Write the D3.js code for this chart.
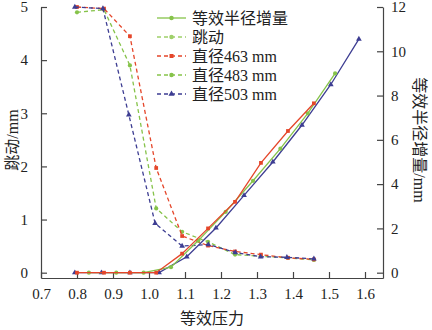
<!DOCTYPE html>
<html>
<head>
<meta charset="utf-8">
<script src="https://cdn.jsdelivr.net/npm/d3@7"></script>
<style>
  body { margin: 0; background: #fff; }
  #chart { width: 432px; height: 330px; }
  text { font-family: "Liberation Serif", "Noto Sans CJK SC", serif; fill: #222; }
  .axis path, .axis line { stroke: #444; stroke-width: 1.2; }
</style>
</head>
<body>
<div id="chart"></div>
<script>
// x ticks and axis labels
const xTicks = [0.7, 0.8, 0.9, 1.0, 1.1, 1.2, 1.3, 1.4, 1.5, 1.6];
const leftTicks = [0, 1, 2, 3, 4, 5];
const rightTicks = [0, 2, 4, 6, 8, 10, 12];

// runout (dashed, left axis)
const runX463 = [0.80, 0.875, 0.947, 1.02, 1.092, 1.164, 1.239, 1.311, 1.386, 1.458];
const runY463 = [5.0, 4.97, 4.45, 1.97, 0.69, 0.51, 0.40, 0.34, 0.28, 0.25];
const runX483 = [0.80, 0.875, 0.947, 1.02, 1.092, 1.164, 1.239, 1.311, 1.386, 1.458];
const runY483 = [4.9, 4.95, 3.9, 1.21, 0.77, 0.58, 0.34, 0.31, 0.28, 0.24];
const runX503 = [0.794, 0.872, 0.944, 1.017, 1.092, 1.165, 1.24, 1.31, 1.383, 1.458];
const runY503 = [5.0, 4.97, 2.97, 0.93, 0.50, 0.53, 0.38, 0.30, 0.29, 0.26];

// equivalent radius increment (solid, right axis)
const radX463 = [0.80, 0.875, 0.947, 1.02, 1.092, 1.164, 1.239, 1.311, 1.386, 1.458];
const radY463 = [0, 0, 0, 0, 0.86, 2.0, 3.2, 4.96, 6.4, 7.65];
const radX483 = [0.833, 0.909, 0.985, 1.061, 1.137, 1.213, 1.289, 1.365, 1.441, 1.517];
const radY483 = [0, 0, 0, 0.25, 1.45, 2.75, 4.15, 5.6, 7.2, 9.0];
const radX503 = [0.794, 0.868, 0.947, 1.028, 1.105, 1.186, 1.264, 1.344, 1.425, 1.505, 1.583];
const radY503 = [0, 0, 0, 0, 0.72, 2.02, 3.49, 5.0, 6.67, 8.5, 10.55];

const legendLabels = ["等效半径增量", "跳动", "直径463 mm", "直径483 mm", "直径503 mm"];

const red = "#e5462a", green = "#86c34a", lightGreen = "#9fd06a", blue = "#3d3d92";

const width = 432, height = 330;
const margin = {top: 7, left: 41, right: 49, bottom: 52};

const svg = d3.select("#chart").append("svg")
    .attr("width", width)
    .attr("height", height);

const xScale = d3.scaleLinear()
    .domain([0.7, 1.65])
    .range([margin.left, width - margin.right]);
const yLeft = d3.scaleLinear()
    .domain([-0.1, 5])
    .range([height - margin.bottom, margin.top]);
const yRight = d3.scaleLinear()
    .domain([-0.24, 12])
    .range([height - margin.bottom, margin.top]);

// axes, ticks pointing inward
svg.append("g")
    .attr("class", "axis")
    .attr("transform", `translate(0,${height - margin.bottom})`)
    .call(d3.axisBottom(xScale).tickValues(xTicks).tickSize(-6).tickSizeOuter(0).tickPadding(10)
        .tickFormat(d3.format(".1f")))
    .call(g => g.selectAll("text").attr("font-size", 15));

svg.append("g")
    .attr("class", "axis")
    .attr("transform", `translate(${margin.left},0)`)
    .call(d3.axisLeft(yLeft).tickValues(leftTicks).tickSize(-6).tickSizeOuter(0).tickPadding(13)
        .tickFormat(d3.format("d")))
    .call(g => g.selectAll("text").attr("font-size", 15));

svg.append("g")
    .attr("class", "axis")
    .attr("transform", `translate(${width - margin.right},0)`)
    .call(d3.axisRight(yRight).tickValues(rightTicks).tickSize(-6).tickSizeOuter(0).tickPadding(8)
        .tickFormat(d3.format("d")))
    .call(g => g.selectAll("text").attr("font-size", 15));

// series
const series = [
    {xs: runX483, ys: runY483, y: yLeft, color: green, dash: "4,3", shape: d3.symbolCircle},
    {xs: runX463, ys: runY463, y: yLeft, color: red, dash: "4,3", shape: d3.symbolSquare},
    {xs: runX503, ys: runY503, y: yLeft, color: blue, dash: "4,3", shape: d3.symbolTriangle},
    {xs: radX503, ys: radY503, y: yRight, color: blue, dash: null, shape: d3.symbolTriangle},
    {xs: radX483, ys: radY483, y: yRight, color: green, dash: null, shape: d3.symbolCircle},
    {xs: radX463, ys: radY463, y: yRight, color: red, dash: null, shape: d3.symbolSquare}
];

series.forEach(function(s) {
    const pts = s.xs.map((x, i) => [x, s.ys[i]]);
    const line = d3.line()
        .x(d => xScale(d[0]))
        .y(d => s.y(d[1]));
    svg.append("path")
        .datum(pts)
        .attr("d", line)
        .style("fill", "none")
        .style("stroke", s.color)
        .style("stroke-width", 1.3)
        .style("stroke-dasharray", s.dash);
    svg.selectAll(null)
        .data(pts)
        .enter()
        .append("path")
        .attr("transform", d => `translate(${xScale(d[0])},${s.y(d[1])})`)
        .attr("d", d3.symbol().type(s.shape).size(14))
        .style("fill", s.color);
});

// legend
const legendItems = [
    {color: green, dash: null, shape: d3.symbolCircle},
    {color: lightGreen, dash: "4,3", shape: d3.symbolCircle},
    {color: red, dash: "4,3", shape: d3.symbolSquare},
    {color: green, dash: "4,3", shape: d3.symbolCircle},
    {color: blue, dash: "4,3", shape: d3.symbolTriangle}
];
const legend = svg.append("g").attr("transform", "translate(157,18)");
legendItems.forEach(function(item, i) {
    const g = legend.append("g").attr("transform", `translate(0,${i * 19})`);
    g.append("line")
        .attr("x1", 0).attr("x2", 29).attr("y1", 0).attr("y2", 0)
        .style("stroke", item.color)
        .style("stroke-width", 1.3)
        .style("stroke-dasharray", item.dash);
    g.append("path")
        .attr("transform", "translate(14.5,0)")
        .attr("d", d3.symbol().type(item.shape).size(16))
        .style("fill", item.color);
    g.append("text")
        .attr("x", 35)
        .attr("y", 6)
        .attr("font-size", 16)
        .text(legendLabels[i]);
});

// axis labels
svg.append("text")
    .attr("x", (margin.left + width - margin.right) / 2)
    .attr("y", 324)
    .attr("text-anchor", "middle")
    .attr("font-size", 16)
    .text("等效压力");

svg.append("text")
    .attr("transform", "rotate(-90)")
    .attr("x", -140)
    .attr("y", 18)
    .attr("text-anchor", "middle")
    .attr("font-size", 16)
    .text("跳动/mm");

svg.append("text")
    .attr("transform", "rotate(90)")
    .attr("x", 140)
    .attr("y", -414)
    .attr("text-anchor", "middle")
    .attr("font-size", 16)
    .text("等效半径增量/mm");
</script>
</body>
</html>
